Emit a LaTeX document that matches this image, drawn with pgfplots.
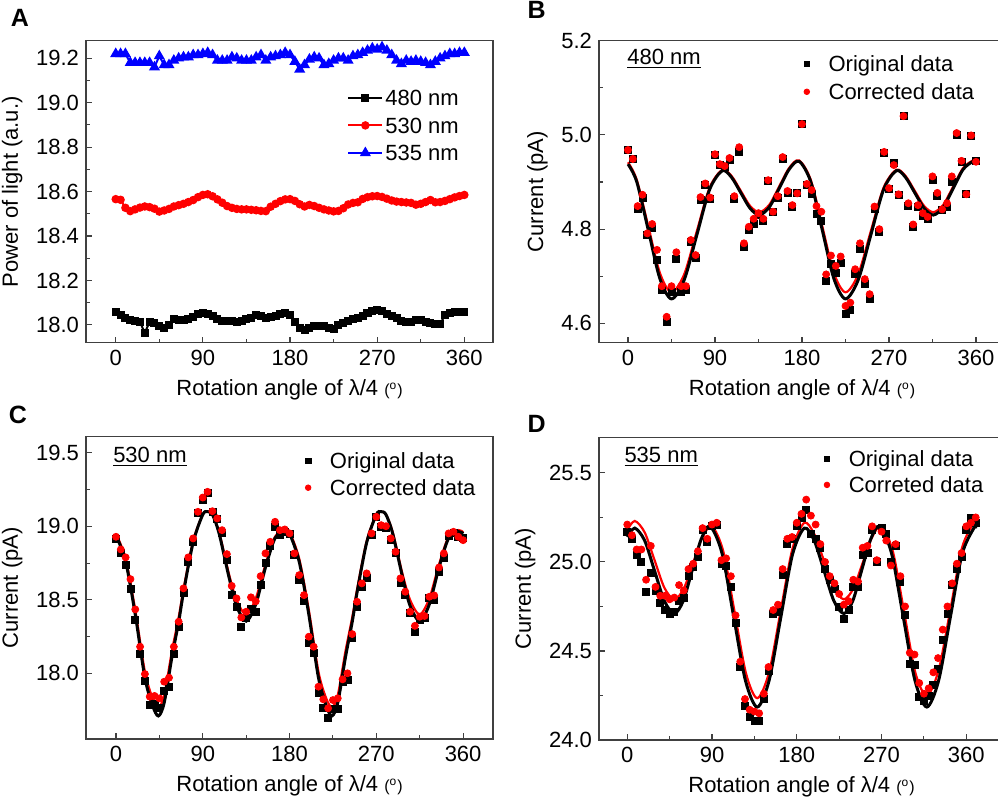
\documentclass[border=0pt]{standalone}
\usepackage{fontspec}
\setmainfont{Liberation Sans}
\usepackage{pgfplots}
\usepackage{pgfplotstable}
\pgfplotsset{compat=1.18}
\newcommand\fsz{\fontsize{11}{13.2}\selectfont}
\pgfplotsset{
  panel/.style={
    scale only axis,
    width=203.5pt, height=151pt,
    axis line style={line width=0.55pt, black!75},
    tick style={black!75, line width=0.55pt},
    tick align=inside, tick pos=left,
    major tick length=3pt, minor tick length=1.8pt,
    xtick={0,90,180,270,360},
    minor x tick num=1, minor y tick num=1,
    tick label style={font=\fsz},
    label style={font=\fsz},
    /pgf/number format/assume math mode=true,
    y tick label style={/pgf/number format/fixed, /pgf/number format/fixed zerofill, /pgf/number format/precision=1},
    xlabel={Rotation angle of λ/4 {\footnotesize(\textsuperscript{o})}},
    legend style={draw=none, fill=none, font=\fsz, inner sep=0pt, anchor=north west,
      nodes={inner sep=1pt, text height=8pt, text depth=0pt}},
    legend cell align=left,
  },
  mleg/.style={legend style={/tikz/every odd column/.append style={column sep=8.5pt}}},
  orig/.style={only marks, mark=square*, mark size=1.75pt, color=black, legend image post style={mark size=1.4pt}},
  corr/.style={only marks, mark=*, mark size=1.75pt, color=red, legend image post style={mark size=1.4pt}},
  fitk/.style={black, line width=1.5pt, smooth, no marks, forget plot},
  fitr/.style={red, line width=1.1pt, smooth, no marks, forget plot},
}
\pgfplotstableread{
a k r b
0 18.058 18.566 19.22
5 18.045 18.563 19.22
10 18.032 18.527 19.22
15 18.022 18.512 19.18
20 18.016 18.520 19.18
25 18.015 18.528 19.18
30 17.963 18.533 19.18
35 18.015 18.530 19.18
40 18.007 18.523 19.16
45 17.995 18.510 19.21
50 17.985 18.515 19.17
55 18.000 18.522 19.17
60 18.025 18.533 19.19
65 18.023 18.539 19.20
70 18.024 18.545 19.205
75 18.027 18.553 19.205
80 18.035 18.562 19.215
85 18.048 18.575 19.215
90 18.052 18.585 19.22
95 18.048 18.588 19.225
100 18.042 18.579 19.215
105 18.028 18.565 19.19
110 18.017 18.550 19.19
115 18.018 18.535 19.19
120 18.019 18.527 19.205
125 18.015 18.522 19.20
130 18.018 18.520 19.19
135 18.025 18.520 19.19
140 18.032 18.518 19.19
145 18.044 18.516 19.205
150 18.039 18.513 19.215
155 18.031 18.512 19.19
160 18.036 18.532 19.205
165 18.042 18.545 19.21
170 18.047 18.557 19.215
175 18.052 18.565 19.225
180 18.045 18.566 19.215
185 18.015 18.558 19.185
190 17.985 18.543 19.15
195 17.978 18.533 19.17
200 17.987 18.540 19.195
205 17.995 18.535 19.205
210 17.995 18.527 19.20
215 17.993 18.520 19.17
220 17.988 18.515 19.175
225 17.982 18.511 19.19
230 17.998 18.513 19.20
235 18.010 18.525 19.20
240 18.017 18.542 19.19
245 18.025 18.549 19.21
250 18.032 18.552 19.215
255 18.038 18.567 19.225
260 18.053 18.575 19.235
265 18.063 18.579 19.245
270 18.067 18.580 19.24
275 18.061 18.576 19.25
280 18.050 18.568 19.235
285 18.042 18.560 19.215
290 18.030 18.555 19.19
295 18.019 18.553 19.175
300 18.012 18.551 19.19
305 18.012 18.549 19.185
310 18.022 18.541 19.19
315 18.022 18.545 19.185
320 18.015 18.553 19.18
325 18.008 18.562 19.17
330 18.005 18.552 19.185
335 18.003 18.553 19.20
340 18.045 18.558 19.21
345 18.052 18.566 19.22
350 18.056 18.574 19.22
355 18.058 18.580 19.225
360 18.060 18.585 19.225
}\Adata
\pgfplotstableread{
a k r
0 4.968 4.968
5 4.949 4.949
10 4.844 4.849
15 4.866 4.873
20 4.788 4.791
25 4.802 4.811
30 4.735 4.756
35 4.672 4.679
40 4.603 4.614
45 4.667 4.679
50 4.736 4.751
55 4.667 4.679
60 4.671 4.679
65 4.773 4.777
70 4.740 4.745
75 4.862 4.868
80 4.895 4.897
85 4.865 4.867
90 4.957 4.959
95 4.936 4.938
100 4.932 4.934
105 4.947 4.951
110 4.865 4.870
115 4.965 4.974
120 4.763 4.770
125 4.798 4.805
130 4.812 4.822
135 4.830 4.834
140 4.818 4.822
145 4.902 4.904
150 4.836 4.837
155 4.867 4.870
160 4.949 4.953
165 4.878 4.881
170 4.848 4.851
175 4.876 4.876
180 5.023 5.023
185 4.894 4.896
190 4.874 4.883
195 4.832 4.849
200 4.818 4.837
205 4.690 4.704
210 4.727 4.744
215 4.708 4.722
220 4.729 4.742
225 4.620 4.637
230 4.628 4.644
235 4.705 4.715
240 4.759 4.770
245 4.684 4.694
250 4.652 4.662
255 4.844 4.848
260 4.795 4.800
265 4.962 4.964
270 4.885 4.887
275 4.940 4.936
280 4.872 4.874
285 5.040 5.040
290 4.849 4.855
295 4.804 4.810
300 4.848 4.851
305 4.828 4.834
310 4.821 4.826
315 4.904 4.912
320 4.870 4.877
325 4.840 4.842
330 4.847 4.855
335 4.901 4.912
340 5.000 5.004
345 4.943 4.945
350 4.874 4.874
355 4.999 4.999
360 4.945 4.943
}\Bdata
\pgfplotstableread{
a k r
0 18.918 18.929
5 18.820 18.843
10 18.736 18.789
15 18.573 18.641
20 18.362 18.435
25 18.131 18.181
30 17.950 17.995
35 17.784 17.841
40 17.790 17.846
45 17.762 17.830
50 17.882 17.943
55 17.910 17.970
60 18.135 18.181
65 18.317 18.351
70 18.544 18.578
75 18.759 18.789
80 18.895 18.918
85 19.092 19.099
90 19.180 19.196
95 19.230 19.235
100 19.100 19.103
105 19.050 19.054
110 18.956 18.974
115 18.770 18.811
120 18.532 18.595
125 18.453 18.510
130 18.317 18.380
135 18.374 18.419
140 18.440 18.517
145 18.420 18.490
150 18.600 18.661
155 18.752 18.816
160 18.865 18.895
165 18.997 19.031
170 18.940 18.974
175 18.963 18.979
180 18.950 18.952
185 18.804 18.816
190 18.639 18.668
195 18.494 18.532
200 18.204 18.249
205 18.140 18.181
210 17.864 17.909
215 17.762 17.823
220 17.694 17.762
225 17.755 17.818
230 17.760 17.830
235 17.943 17.959
240 17.954 18.000
245 18.238 18.267
250 18.453 18.487
255 18.589 18.612
260 18.646 18.680
265 18.940 18.952
270 19.065 19.065
275 18.997 19.008
280 18.990 19.001
285 18.906 18.918
290 18.816 18.827
295 18.612 18.646
300 18.532 18.555
305 18.408 18.419
310 18.283 18.323
315 18.362 18.385
320 18.375 18.390
325 18.510 18.521
330 18.500 18.530
335 18.691 18.720
340 18.782 18.816
345 18.933 18.952
350 18.956 18.963
355 18.930 18.929
360 18.920 18.906
}\Cdata
\pgfplotstableread{
a k r
0 25.17 25.21
5 25.13 25.15
10 25.04 25.07
15 25.00 25.07
20 24.83 24.90
25 24.94 25.09
30 24.84 24.86
35 24.77 24.81
40 24.73 24.81
45 24.71 24.79
50 24.72 24.80
55 24.78 24.87
60 24.80 24.84
65 24.92 24.96
70 24.97 24.99
75 25.03 25.06
80 25.18 25.19
85 25.11 25.13
90 25.20 25.21
95 25.21 25.22
100 24.99 25.01
105 24.98 25.02
110 24.86 24.92
115 24.66 24.70
120 24.41 24.44
125 24.19 24.23
130 24.13 24.17
135 24.11 24.16
140 24.11 24.15
145 24.23 24.26
150 24.39 24.41
155 24.71 24.73
160 24.72 24.76
165 24.93 24.96
170 25.10 25.13
175 25.13 25.14
180 25.20 25.22
185 25.25 25.27
190 25.29 25.35
195 25.16 25.26
200 25.13 25.21
205 25.08 25.10
210 24.96 25.00
215 24.90 24.92
220 24.85 24.88
225 24.75 24.82
230 24.68 24.76
235 24.73 24.78
240 24.86 24.90
245 24.86 24.89
250 25.04 25.08
255 25.05 25.09
260 25.18 25.20
265 25.00 25.01
270 25.19 25.17
275 25.16 25.12
280 25.00 24.98
285 25.09 25.10
290 24.89 24.92
295 24.70 24.75
300 24.43 24.49
305 24.42 24.48
310 24.24 24.32
315 24.22 24.26
320 24.25 24.29
325 24.31 24.38
330 24.40 24.46
335 24.56 24.62
340 24.71 24.75
345 24.87 24.88
350 24.96 24.99
355 25.03 25.05
360 25.18 25.20
365 25.25 25.22
370 25.22 25.25
}\Ddata
\begin{document}
\begin{tikzpicture}
\useasboundingbox (0pt,0pt) rectangle (499pt,402.5pt);
\node[font=\bfseries\fontsize{12.5}{14}\selectfont] at (10pt,393.75pt) {A};
\node[font=\bfseries\fontsize{12.5}{14}\selectfont] at (268.35pt,397.5pt) {B};
\node[font=\bfseries\fontsize{12.5}{14}\selectfont] at (9pt,195pt) {C};
\node[font=\bfseries\fontsize{12.5}{14}\selectfont] at (268.35pt,190.5pt) {D};

% ---------- A ----------
\begin{axis}[panel, at={(43pt,231.15pt)}, anchor=south west,
  xmin=-30.7, xmax=389.6, ymin=17.92, ymax=19.279,
  ytick={18.0,18.2,18.4,18.6,18.8,19.0,19.2},
  ylabel={Power of light (a.u.)},
  legend style={at={(0.641,0.845)}, row sep=3.75pt}]
\addplot[black, line width=1pt, mark=square*, mark size=1.5pt] table[x=a,y=k]{\Adata};
\addlegendentry{480 nm}
\addplot[red, line width=1pt, mark=*, mark size=1.6pt] table[x=a,y=r]{\Adata};
\addlegendentry{530 nm}
\addplot[blue, line width=1pt, mark=triangle*, mark size=2.2pt] table[x=a,y=b]{\Adata};
\addlegendentry{535 nm}
\end{axis}

% ---------- B ----------
\begin{axis}[panel, mleg, at={(299.5pt,231.15pt)}, anchor=south west, width=203pt,
  xmin=-30, xmax=390, ymin=4.559, ymax=5.2,
  ytick={4.6,4.8,5.0,5.2},
  ylabel={Current (pA)},
  legend style={at={(0.504,0.958)}, row sep=4pt}]
\addplot[orig] table[x=a,y=k]{\Bdata};
\addlegendentry{Original data}
\addplot[corr] table[x=a,y=r]{\Bdata};
\addlegendentry{Corrected data}
\addplot[fitr] coordinates {(0,4.942) (9,4.905) (21,4.806) (33,4.707) (45,4.666) (58.1,4.704) (71.25,4.796) (84.4,4.888) (97.5,4.926) (107.1,4.913) (116.75,4.881) (126.4,4.849) (136,4.836) (146.25,4.852) (156.5,4.891) (166.75,4.930) (177,4.946) (189,4.905) (201,4.806) (213,4.707) (225,4.666) (238.1,4.704) (251.25,4.796) (264.4,4.888) (277.5,4.926) (287.1,4.913) (296.75,4.881) (306.4,4.849) (316,4.836) (326.25,4.852) (336.5,4.891) (346.75,4.930) (357,4.946) (360,4.944)};
\addplot[fitk] coordinates {(0,4.938) (9,4.901) (21,4.798) (33,4.695) (45,4.652) (58.1,4.692) (71.25,4.788) (84.4,4.884) (97.5,4.924) (107.1,4.910) (116.75,4.877) (126.4,4.844) (136,4.830) (146.25,4.847) (156.5,4.887) (166.75,4.927) (177,4.944) (189,4.901) (201,4.798) (213,4.695) (225,4.652) (238.1,4.692) (251.25,4.788) (264.4,4.884) (277.5,4.924) (287.1,4.910) (296.75,4.877) (306.4,4.844) (316,4.830) (326.25,4.847) (336.5,4.887) (346.75,4.927) (357,4.944) (360,4.941)};
\node[anchor=west, font=\fsz, inner sep=0pt] at (rel axis cs:0.069,0.939) {\underline{480 nm}};
\end{axis}

% ---------- C ----------
\begin{axis}[panel, mleg, at={(43pt,33pt)}, anchor=south west, height=151.15pt,
  xmin=-31.1, xmax=391, ymin=17.553, ymax=19.61,
  ytick={18.0,18.5,19.0,19.5},
  ylabel={Current (pA)},
  legend style={at={(0.538,0.955)}, row sep=3.5pt}]
\addplot[orig] table[x=a,y=k]{\Cdata};
\addlegendentry{Original data}
\addplot[corr] table[x=a,y=r]{\Cdata};
\addlegendentry{Corrected data}
\addplot[fitr] coordinates {(0,18.95) (10,18.78) (20,18.43) (30,18.01) (38,17.83) (44,17.77) (50,17.85) (58,18.15) (65,18.38) (70,18.57) (80,18.90) (90,19.08) (95,19.10) (100,19.08) (107,18.96) (117,18.68) (125,18.50) (135,18.40) (145,18.51) (155,18.74) (165,18.93) (175,18.975) (180,18.96) (190,18.78) (200,18.43) (210,18.01) (218,17.83) (224,17.77) (230,17.85) (238,18.15) (245,18.38) (250,18.57) (260,18.90) (270,19.08) (275,19.10) (280,19.08) (287,18.96) (297,18.68) (305,18.50) (315,18.40) (325,18.51) (335,18.74) (345,18.93) (355,18.975) (360,18.96)};
\addplot[fitk] coordinates {(0,18.94) (10,18.76) (20,18.40) (30,17.97) (38,17.78) (44,17.71) (50,17.80) (58,18.11) (65,18.35) (70,18.55) (80,18.89) (90,19.08) (95,19.10) (100,19.08) (107,18.95) (117,18.66) (125,18.46) (135,18.355) (145,18.47) (155,18.72) (165,18.92) (175,18.965) (180,18.95) (190,18.76) (200,18.40) (210,17.97) (218,17.78) (224,17.71) (230,17.80) (238,18.11) (245,18.35) (250,18.55) (260,18.89) (270,19.08) (275,19.10) (280,19.08) (287,18.95) (297,18.66) (305,18.46) (315,18.355) (325,18.47) (335,18.72) (345,18.92) (355,18.965) (360,18.95)};
\node[anchor=west, font=\fsz, inner sep=0pt] at (rel axis cs:0.066,0.933) {\underline{530 nm}};
\end{axis}

% ---------- D ----------
\begin{axis}[panel, mleg, at={(299.5pt,32.5pt)}, anchor=south west, width=202.5pt, height=151.35pt,
  xmin=-30, xmax=400, ymin=24.0, ymax=25.7,
  ytick={24.0,24.5,25.0,25.5},
  ylabel={Current (pA)},
  legend style={at={(0.555,0.963)}, row sep=3pt}]
\addplot[orig] table[x=a,y=k]{\Ddata};
\addlegendentry{Original data}
\addplot[corr] table[x=a,y=r]{\Ddata};
\addlegendentry{Correted data}
\addplot[fitr] coordinates {(0,25.18) (8,25.23) (18.5,25.166) (29,25.01) (39.5,24.854) (50,24.79) (60,24.85) (70,24.995) (80,25.14) (90,25.20) (102,25.059) (114,24.718) (126,24.376) (138,24.235) (150.5,24.379) (163,24.728) (175.5,25.076) (188,25.22) (198.5,25.157) (209,25.005) (219.5,24.853) (230,24.79) (240,24.85) (250,24.995) (260,25.14) (270,25.20) (282,25.059) (294,24.718) (306,24.376) (318,24.25) (330.5,24.39) (343,24.73) (355.5,25.08) (368,25.22) (370,25.22)};
\addplot[fitk] coordinates {(0,25.14) (8,25.19) (18.5,25.12) (29,24.95) (39.5,24.78) (50,24.71) (59.5,24.782) (69,24.955) (78.5,25.128) (88,25.20) (100.5,25.051) (113,24.693) (125.5,24.334) (138,24.185) (150.5,24.332) (163,24.688) (175.5,25.043) (188,25.19) (198.5,25.12) (209,24.95) (219.5,24.78) (230,24.71) (239.5,24.782) (249,24.955) (258.5,25.128) (268,25.20) (280.5,25.051) (293,24.693) (305.5,24.334) (318,24.185) (330.5,24.332) (343,24.688) (355.5,25.043) (368,25.19) (370,25.188)};
\node[anchor=west, font=\fsz, inner sep=0pt] at (rel axis cs:0.062,0.935) {\underline{535 nm}};
\end{axis}
\end{tikzpicture}
\end{document}
